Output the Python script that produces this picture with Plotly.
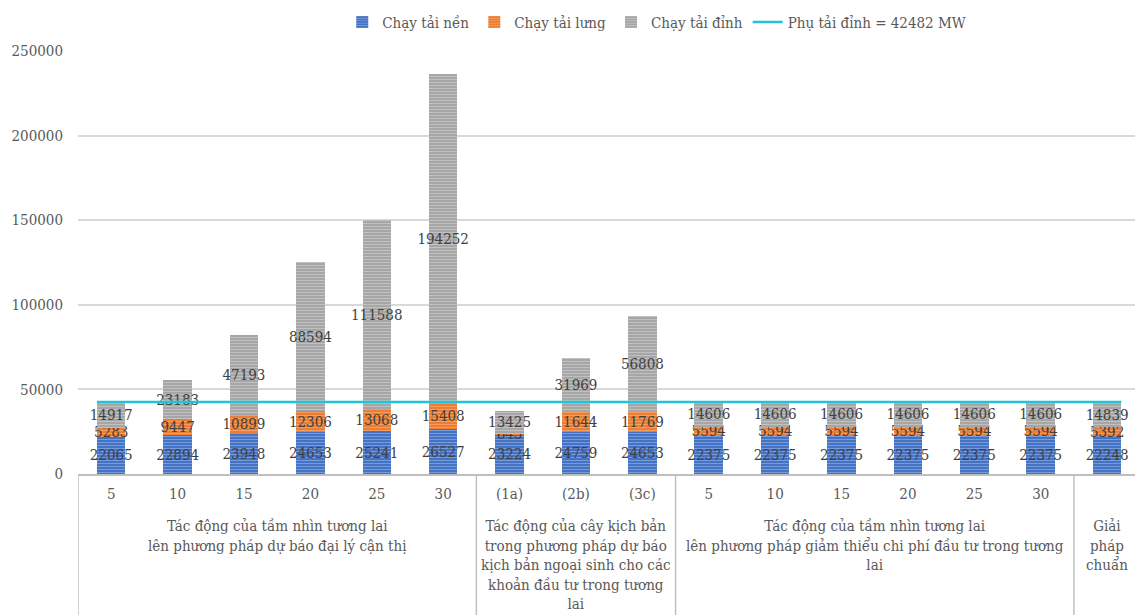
import plotly.graph_objects as go

# Category labels (first level) and groups (second level)
tick_labels = ["5", "10", "15", "20", "25", "30",
               "(1a)", "(2b)", "(3c)",
               "5", "10", "15", "20", "25", "30",
               ""]
group_names = [
    "Tác động của tầm nhìn tương lai<br>lên phương pháp dự báo đại lý cận thị",
    "Tác động của cây kịch bản<br>trong phương pháp dự báo<br>kịch bản ngoại sinh cho các<br>khoản đầu tư trong tương<br>lai",
    "Tác động của tầm nhìn tương lai<br>lên phương pháp giảm thiểu chi phí đầu tư trong tương<br>lai",
    "Giải<br>pháp<br>chuẩn",
]
group_sizes = [6, 3, 6, 1]

# Series values (MW)
base_load = [22065, 22894, 23948, 24653, 25241, 26527,
             23224, 24759, 24653,
             22375, 22375, 22375, 22375, 22375, 22375,
             22248]
mid_load = [5283, 9447, 10899, 12306, 13068, 15408,
            643, 11644, 11769,
            5594, 5594, 5594, 5594, 5594, 5594,
            5392]
peak_load = [14917, 23183, 47193, 88594, 111588, 194252,
             13425, 31969, 56808,
             14606, 14606, 14606, 14606, 14606, 14606,
             14839]
peak_demand = 42482

FONT = "DejaVu Serif Condensed, DejaVu Serif, serif"
TEXT = "#595959"
LABEL = "#404040"
FS = 15
BAR_W = 0.43

x = list(range(len(tick_labels)))

series = [
    ("Chạy tải nền", base_load, "#4472C4", "#A9C1EB"),
    ("Chạy tải lưng", mid_load, "#ED7D31", "#F9BE94"),
    ("Chạy tải đỉnh", peak_load, "#A6A6A6", "#DCDCDC"),
]

fig = go.Figure()
for name, vals, col, stripe in series:
    fig.add_trace(go.Bar(
        x=x, y=vals, name=name, width=BAR_W,
        marker=dict(color=col, line=dict(width=0),
                    pattern=dict(shape="-", fgcolor=stripe, size=3, solidity=0.35)),
        text=[str(v) for v in vals],
        textposition="inside", insidetextanchor="middle",
        textangle=0, constraintext="none",
        textfont=dict(family=FONT, size=FS, color=LABEL),
        hoverinfo="skip",
    ))

# Peak demand reference line spanning first to last bar
fig.add_trace(go.Scatter(
    x=[x[0] - BAR_W / 2, x[-1] + BAR_W / 2],
    y=[peak_demand, peak_demand],
    mode="lines", name=f"Phụ tải đỉnh = {peak_demand} MW",
    line=dict(color="#22C3D6", width=2.5),
    hoverinfo="skip",
))

# Table-like category axis: borders between groups and group titles
shapes = []
annotations = []
start = 0
bounds = [-0.5]
for name, size in zip(group_names, group_sizes):
    end = start + size
    bounds.append(end - 0.5)
    annotations.append(dict(
        x=(start + end - 1) / 2, xref="x", y=0, yref="paper",
        yanchor="top", xanchor="center", yshift=-41,
        text=name, showarrow=False, align="center",
        font=dict(family=FONT, size=FS, color=TEXT),
    ))
    start = end
for b in bounds[:-1]:
    shapes.append(dict(type="line", xref="x", yref="paper",
                       x0=b, x1=b, y0=0, y1=-0.4,
                       line=dict(color="#BFBFBF", width=1.5)))

fig.update_layout(
    width=1135, height=615,
    margin=dict(l=78, r=0, t=51, b=140.5),
    barmode="stack", bargap=0.57,
    plot_bgcolor="white", paper_bgcolor="white",
    font=dict(family=FONT, size=FS, color=TEXT),
    showlegend=True,
    legend=dict(orientation="h", x=0.25, xanchor="left",
                y=1.068, yanchor="middle",
                font=dict(family=FONT, size=FS, color=TEXT),
                itemwidth=30, traceorder="normal"),
    shapes=shapes, annotations=annotations,
)
fig.update_xaxes(
    range=[-0.5, 15.42], tickmode="array", tickvals=x, ticktext=tick_labels,
    showline=True, linecolor="#BFBFBF", linewidth=1.5,
    showgrid=False, zeroline=False, ticks="",
    ticklabelstandoff=5,
    tickfont=dict(family=FONT, size=FS, color=TEXT),
)
fig.update_yaxes(
    range=[0, 250000], dtick=50000, tickformat="d",
    showgrid=True, gridcolor="#D9D9D9", gridwidth=1.5,
    zeroline=False, showline=False, ticks="",
    ticklabelstandoff=14,
    tickfont=dict(family=FONT, size=FS, color=TEXT),
)

fig.write_html("out.html")
